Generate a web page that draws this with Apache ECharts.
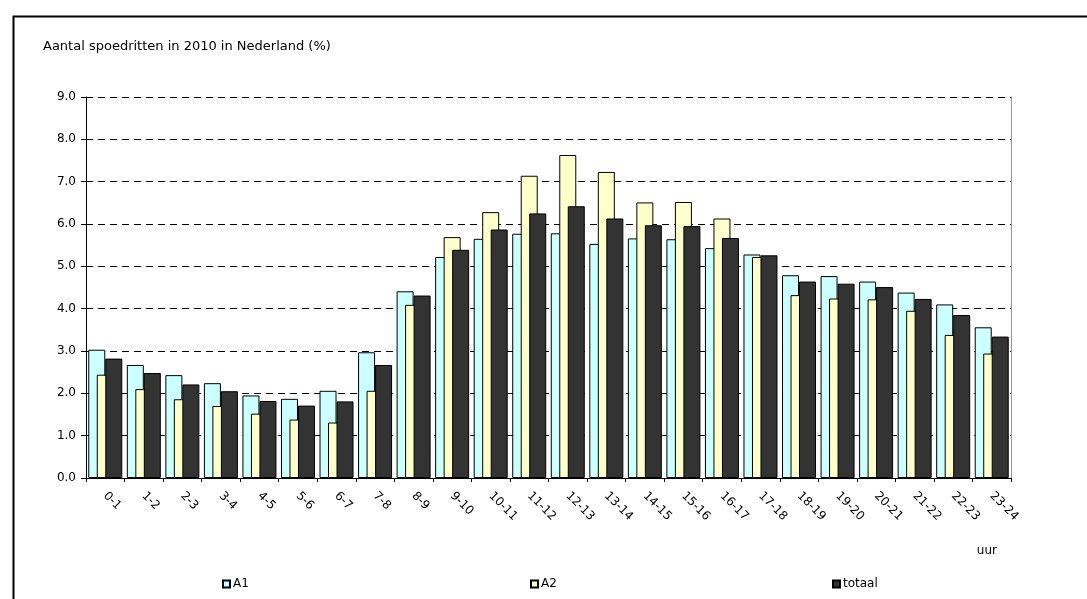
<!DOCTYPE html>
<html>
<head>
<meta charset="utf-8">
<script src="https://cdn.jsdelivr.net/npm/echarts@6/dist/echarts.min.js"></script>
<style>html,body{margin:0;padding:0;background:#fff;}#c{width:1087px;height:599px;}</style>
</head>
<body>
<div id="c"></div>
<script>
var categories = ["0-1","1-2","2-3","3-4","4-5","5-6","6-7","7-8","8-9","9-10","10-11","11-12","12-13","13-14","14-15","15-16","16-17","17-18","18-19","19-20","20-21","21-22","22-23","23-24"];
var a1 = [3.03,2.67,2.43,2.24,1.95,1.87,2.06,2.97,4.41,5.22,5.65,5.77,5.78,5.53,5.66,5.64,5.43,5.28,4.79,4.77,4.64,4.38,4.10,3.56];
var a2 = [2.44,2.10,1.86,1.70,1.52,1.38,1.31,2.06,4.09,5.69,6.28,7.14,7.63,7.23,6.51,6.52,6.13,5.22,4.32,4.24,4.22,3.95,3.38,2.94];
var totaal = [2.82,2.48,2.21,2.05,1.82,1.71,1.81,2.67,4.31,5.39,5.87,6.25,6.42,6.13,5.97,5.95,5.67,5.26,4.64,4.59,4.51,4.23,3.85,3.34];
var yTicks = [0,1,2,3,4,5,6,7,8,9];

var FONT = "DejaVu Sans";
var chart = echarts.init(document.getElementById('c'));
function legendAt(name, left) {
  return {
    data: [name], left: left, top: 573, itemWidth: 7, itemHeight: 7, itemGap: 3,
    icon: 'rect',
    textStyle: {fontFamily: FONT, fontSize: 12, color: '#000', padding: [0,0,0,-2]}
  };
}
chart.setOption({
  animation: false,
  backgroundColor: '#fff',
  title: {
    text: 'Aantal spoedritten in 2010 in Nederland (%)',
    left: 38, top: 35,
    textStyle: {fontFamily: FONT, fontSize: 13, fontWeight: 'normal', color: '#000'}
  },
  legend: [legendAt('A1', 217), legendAt('A2', 525), legendAt('totaal', 827)],
  grid: {left: 86, right: 76, top: 97, bottom: 121},
  xAxis: {
    type: 'category',
    data: categories,
    axisLine: {lineStyle: {color: '#000', width: 1}},
    axisTick: {show: true, length: 4, lineStyle: {color: '#000'}},
    axisLabel: {rotate: -45, margin: 16, fontFamily: FONT, fontSize: 12, color: '#000', interval: 0}
  },
  yAxis: [{
    type: 'value', min: yTicks[0], max: yTicks[yTicks.length-1], interval: 1,
    axisLine: {show: true, lineStyle: {color: '#000'}},
    axisTick: {show: true, length: 5, lineStyle: {color: '#000'}},
    axisLabel: {margin: 10, fontFamily: FONT, fontSize: 12, color: '#000', formatter: function(v){return v.toFixed(1);}},
    splitLine: {show: true, lineStyle: {color: '#000', type: [7,5], width: 1}}
  }, {
    type: 'value', min: 0, max: 9, interval: 1, position: 'right',
    axisLine: {show: true, lineStyle: {color: '#999'}},
    axisTick: {show: false}, axisLabel: {show: false}, splitLine: {show: false}
  }],
  graphic: [
    {type: 'rect', left: 11, top: 14, shape: {width: 1100, height: 620}, style: {fill: 'none', stroke: '#000', lineWidth: 2}, z: 100},
    {type: 'text', right: 90, top: 545, style: {text: 'uur', fontFamily: FONT, fontSize: 12, fill: '#000'}}
  ],
  series: [
    {name: 'A1', type: 'bar', data: a1, barWidth: 17, barGap: '-50%',
     itemStyle: {color: '#CCFFFF', borderColor: '#000', borderWidth: 1}},
    {name: 'A2', type: 'bar', data: a2, barWidth: 17, barGap: '-50%',
     itemStyle: {color: '#FFFFCC', borderColor: '#000', borderWidth: 1}},
    {name: 'totaal', type: 'bar', data: totaal, barWidth: 17, barGap: '-50%',
     itemStyle: {color: '#333333', borderColor: '#000', borderWidth: 1}}
  ]
});
</script>
</body>
</html>
